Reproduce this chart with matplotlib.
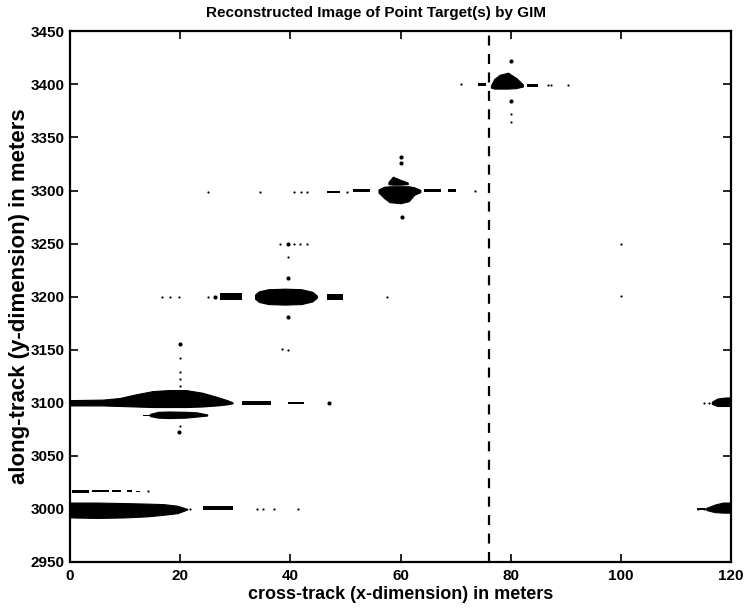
import numpy as np
from matplotlib import pyplot as plt

plt.rcParams['font.family'] = ['Liberation Sans', 'DejaVu Sans']

# main lobes: x profile (m) with upper / lower edge (m)
lobe_3000_x = [0, 5, 10, 14, 17, 19.5, 21.3]
lobe_3000_top = [3006, 3006, 3005.5, 3005, 3004.5, 3003, 3000]
lobe_3000_bot = [2992, 2991.5, 2992, 2993, 2994.5, 2996, 2999.5]

lobe_3100_x = [0, 6, 9, 12, 15, 18, 21, 24, 26.7, 28.5, 29.5]
lobe_3100_top = [3102.5, 3103, 3104.5, 3108, 3111, 3112, 3112, 3109.5, 3105.5, 3102.5, 3100.5]
lobe_3100_bot = [3097.5, 3097.5, 3097, 3096.5, 3096, 3096, 3096, 3096.5, 3097.5, 3098.5, 3099.5]

row_3088_x = [14.5, 16, 18, 21, 23, 24.9]
row_3088_top = [3089.5, 3091.5, 3091.8, 3091.5, 3091, 3089]
row_3088_bot = [3087.5, 3086, 3085.6, 3086, 3087, 3088]

lobe_3200_x = [33.6, 34.3, 36, 39, 42, 44, 44.8]
lobe_3200_top = [3202, 3205, 3207, 3207.5, 3207, 3204.5, 3201]
lobe_3200_bot = [3198, 3195, 3193, 3192.5, 3193, 3195.5, 3199]

lobe_3300_x = [56, 57, 58, 60, 61.5, 62.5, 63.6]
lobe_3300_top = [3301, 3303.5, 3304, 3304, 3304, 3303, 3300.5]
lobe_3300_bot = [3298, 3293, 3289, 3288, 3290, 3296, 3298.5]

bump_3300_x = [57.8, 58.6, 60, 61.3]
bump_3300_top = [3308, 3313, 3310, 3307.5]
bump_3300_bot = [3306, 3305.5, 3305.5, 3306]

lobe_3400_x = [76.4, 77, 78, 79.5, 81, 82.2]
lobe_3400_top = [3399, 3405, 3409, 3411, 3406, 3400]
lobe_3400_bot = [3397, 3396, 3396, 3396, 3396.5, 3398]

edge_3100_x = [116.5, 117.5, 119, 120]
edge_3100_top = [3101, 3104, 3105, 3105]
edge_3100_bot = [3099, 3097, 3097, 3097]

edge_3000_x = [115.5, 117, 118.5, 120]
edge_3000_top = [3001, 3004, 3006, 3006]
edge_3000_bot = [2999, 2997, 2996.5, 2996.5]

# sidelobe dashes: start, end, row, thickness (m)
dash_x0 = [24.2, 0.3, 4.0, 7.6, 10.3, 12.0, 31.2, 39.6, 13.3, 27.3, 46.7, 46.7, 51.3, 64.2, 68.7, 74.0, 83.0, 113.8]
dash_x1 = [29.6, 3.5, 7.0, 9.2, 11.2, 12.7, 36.4, 42.4, 14.5, 31.2, 49.6, 49.1, 54.5, 67.3, 70.0, 75.5, 85.0, 115.5]
dash_y = [3001, 3016.5, 3016.5, 3016.5, 3016.5, 3016.5, 3100, 3100, 3088, 3200, 3200, 3299, 3300, 3300, 3300, 3400, 3399, 3000]
dash_t = [3.5, 2.5, 2, 2, 1.8, 1.5, 4, 1.5, 1.2, 7, 5.5, 1.8, 3.5, 3.5, 2.5, 3, 3, 1.5]

# isolated speckle
dot_x = [25, 34.5, 100, 100, 20, 20, 20, 20, 20, 39.5, 38.2, 40.7, 41.8, 43,
         39.5, 38.5, 16.7, 18.1, 19.7, 25.1, 34, 35, 37, 41.3, 21.8, 14.2,
         40.7, 42, 43, 73.5, 71, 86.7, 87.3, 90.4, 80, 80, 57.6, 115, 116,
         114, 115, 50.3]
dot_y = [3299, 3299, 3250, 3201, 3116, 3122.6, 3129, 3141.8, 3078, 3237.4, 3250, 3250, 3250, 3250,
         3150, 3150.5, 3200, 3200, 3200, 3200, 3000, 3000, 3000, 3000, 3000, 3017,
         3299, 3299, 3299, 3300, 3400, 3399, 3399, 3399, 3371.7, 3365, 3200, 3100, 3100,
         3000, 3000, 3299]
big_dot_x = [19.8, 39.5, 39.5, 39.5, 20, 47.1, 26.4, 80, 80, 60, 60, 60.2]
big_dot_y = [3072.6, 3218, 3249.3, 3180.8, 3155.4, 3100, 3200, 3421.7, 3384, 3332, 3326, 3275]

cut_x = 76

x_ticks = [0, 20, 40, 60, 80, 100, 120]
y_ticks = [2950, 3000, 3050, 3100, 3150, 3200, 3250, 3300, 3350, 3400, 3450]

fig = plt.figure(figsize=(7.47, 6.10), dpi=100)
ax = fig.add_axes([0.0937, 0.0787, 0.885, 0.870])

lobes = [
    (lobe_3000_x, lobe_3000_top, lobe_3000_bot),
    (lobe_3100_x, lobe_3100_top, lobe_3100_bot),
    (row_3088_x, row_3088_top, row_3088_bot),
    (lobe_3200_x, lobe_3200_top, lobe_3200_bot),
    (lobe_3300_x, lobe_3300_top, lobe_3300_bot),
    (bump_3300_x, bump_3300_top, bump_3300_bot),
    (lobe_3400_x, lobe_3400_top, lobe_3400_bot),
    (edge_3100_x, edge_3100_top, edge_3100_bot),
    (edge_3000_x, edge_3000_top, edge_3000_bot),
]
for lx, lt, lb in lobes:
    ax.fill_between(lx, lt, lb, color='k', lw=0.8, edgecolor='k')

x0 = np.array(dash_x0)
x1 = np.array(dash_x1)
ax.barh(dash_y, x1 - x0, left=x0, height=dash_t, color='k', lw=0)

ax.scatter(dot_x, dot_y, s=2.5, color='k', lw=0)
ax.scatter(big_dot_x, big_dot_y, s=9, color='k', lw=0)

ax.axvline(cut_x, color='k', lw=1.6, ls=(0, (4.5, 3.8)))

ax.set_xlim(0, 120)
ax.set_ylim(2950, 3450)
ax.set_xticks(x_ticks)
ax.set_yticks(y_ticks)
ax.tick_params(direction='in', length=6, width=1.2, top=True, right=True,
               labelsize=11, pad=4)
ax.tick_params(axis='x', pad=5)
for lab in ax.get_xticklabels() + ax.get_yticklabels():
    lab.set_fontweight('bold')
for sp in ax.spines.values():
    sp.set_linewidth(1.6)

ax.set_xlabel('cross-track (x-dimension) in meters', fontsize=13,
              fontweight='bold', labelpad=2)
ax.set_ylabel('along-track (y-dimension) in meters', fontsize=16,
              fontweight='bold', labelpad=0)
fig.text(376 / 747, 1 - 13 / 610, 'Reconstructed Image of Point Target(s) by GIM',
         ha='center', va='center', fontsize=11, fontweight='bold')

fig.savefig('out.png', dpi=100)
